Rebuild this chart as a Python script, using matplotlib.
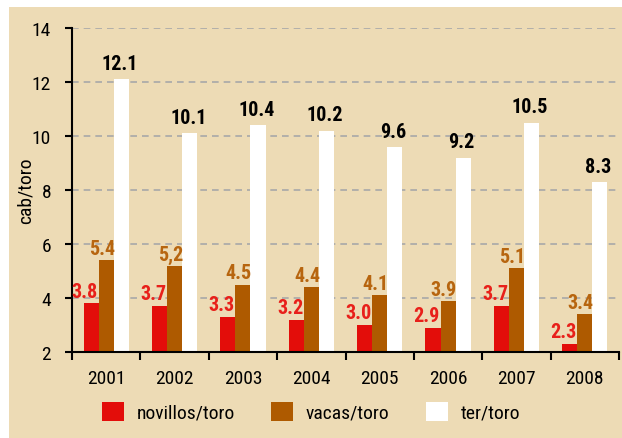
import matplotlib
matplotlib.use("Agg")
import matplotlib.pyplot as plt
from matplotlib.patches import Rectangle, Patch
import numpy as np

years = ["2001", "2002", "2003", "2004", "2005", "2006", "2007", "2008"]
novillos = [3.8, 3.7, 3.3, 3.2, 3.0, 2.9, 3.7, 2.3]
vacas = [5.4, 5.2, 4.5, 4.4, 4.1, 3.9, 5.1, 3.4]
ter = [12.1, 10.1, 10.4, 10.2, 9.6, 9.2, 10.5, 8.3]
novillos_labels = ["3.8", "3.7", "3.3", "3.2", "3.0", "2.9", "3.7", "2.3"]
vacas_labels = ["5.4", "5,2", "4.5", "4.4", "4.1", "3.9", "5.1", "3.4"]
ter_labels = ["12.1", "10.1", "10.4", "10.2", "9.6", "9.2", "10.5", "8.3"]
series_names = ["novillos/toro", "vacas/toro", "ter/toro"]
yticks = [2, 4, 6, 8, 10, 12, 14]

plt.rcParams['font.family'] = ['Roboto Condensed', 'DejaVu Sans']

BG = "#EDDBB5"
RED = "#E30D0A"
BROWN = "#AE5A00"
RED_TXT = "#E8201A"
BROWN_TXT = "#B7650F"
FS = 14
FSV = 14.5

fig = plt.figure(figsize=(6.22, 4.39), dpi=100)
fig.patch.set_facecolor("white")
fig.patches.append(Rectangle((9/622, 0), 1, 1 - 8/439, transform=fig.transFigure,
                             facecolor=BG, edgecolor="none", zorder=-10))
ax = fig.add_axes([72/622, 1 - 353/439, (619 - 72)/622, (353 - 29)/439])
ax.set_facecolor(BG)

x = np.arange(len(years)) + 0.5
w = 0.22
ax.bar(x - w, novillos, w, color=RED, zorder=3)
ax.bar(x, vacas, w, color=BROWN, zorder=3)
ax.bar(x + w, ter, w, color="white", zorder=3)

for xi, v, s in zip(x - w, novillos, novillos_labels):
    ax.annotate(s, (xi, v), xytext=(-4.5, 2), textcoords="offset points",
                ha="center", va="bottom", color=RED_TXT, fontsize=FSV, fontweight="bold", zorder=5)
for xi, v, s in zip(x, vacas, vacas_labels):
    ax.annotate(s, (xi, v), xytext=(-3, 1.5), textcoords="offset points",
                ha="center", va="bottom", color=BROWN_TXT, fontsize=FSV, fontweight="bold", zorder=5)
for xi, v, s in zip(x + w, ter, ter_labels):
    ax.annotate(s, (xi, v), xytext=(-1, 4.5), textcoords="offset points",
                ha="center", va="bottom", color="black", fontsize=FSV, fontweight="bold", zorder=5)

ax.set_xlim(0, len(years))
ax.set_ylim(2, 14)
ax.set_yticks(yticks)
ax.set_yticklabels([str(t) for t in yticks], fontsize=FS)
ax.set_xticks(np.arange(len(years) + 1))
ax.set_xticklabels([])
ax.set_xticks(x, minor=True)
ax.set_xticklabels(years, minor=True, fontsize=FS)
ax.tick_params(axis="x", which="minor", length=0, pad=12)
ax.tick_params(axis="x", which="major", length=6, width=1.5, direction="out")
ax.tick_params(axis="y", length=5, width=1.5, direction="out", pad=10)

ax.yaxis.grid(True, linestyle=(0, (4, 3)), color="#A8A8A8", linewidth=1.2, zorder=1)
ax.set_axisbelow(True)
for sp in ["top", "right"]:
    ax.spines[sp].set_visible(False)
for sp in ["left", "bottom"]:
    ax.spines[sp].set_linewidth(1.5)
    ax.spines[sp].set_color("black")
    ax.spines[sp].set_zorder(4)

ax.set_ylabel("cab/toro", fontsize=FS, labelpad=-2)

handles = [Patch(facecolor=RED), Patch(facecolor=BROWN), Patch(facecolor="white")]
fig.legend(handles, series_names, loc="center", bbox_to_anchor=(0.5, 1 - 413/439),
           ncol=3, frameon=False, fontsize=FS, handlelength=1.15, handleheight=1.1,
           handletextpad=0.65, columnspacing=1.85)

fig.savefig("out.png", dpi=100, facecolor="white")
